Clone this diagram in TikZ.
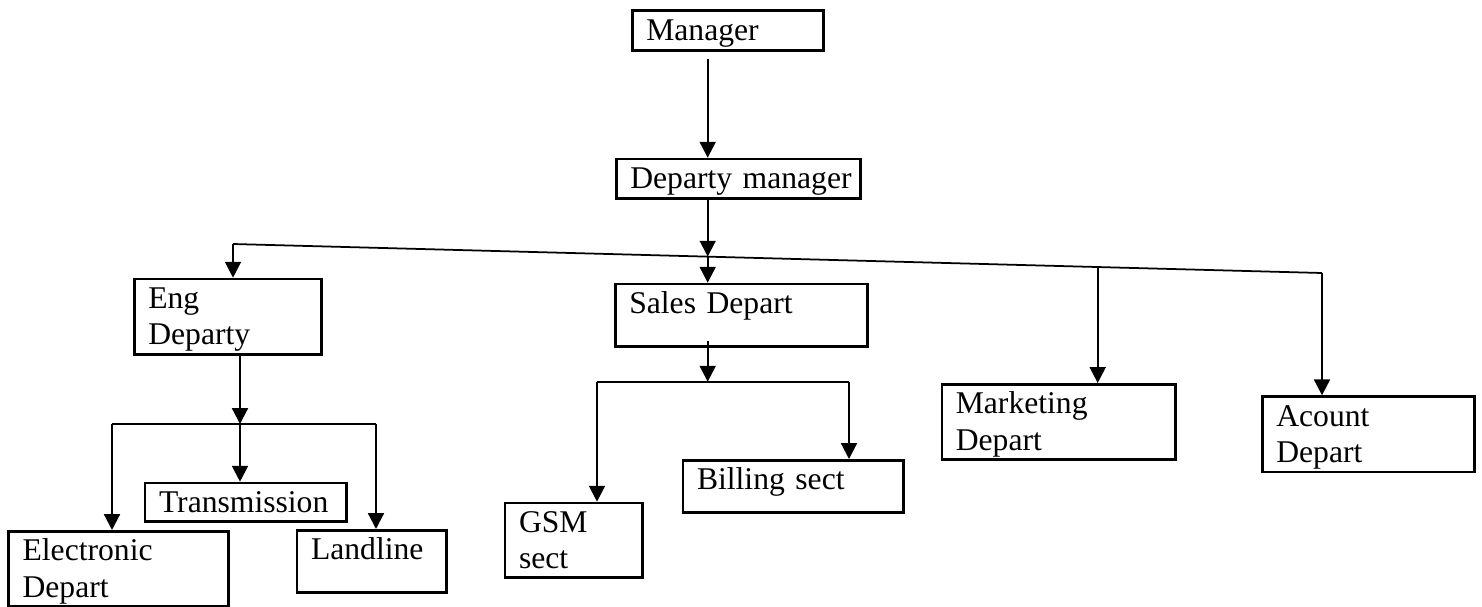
\documentclass[tikz,border=0pt]{standalone}
\usepackage{fontspec}
\setmainfont{Liberation Serif}
\usetikzlibrary{arrows.meta}
\tikzset{
  box/.style            = { rectangle, anchor=north west, inner xsep=0.28cm, inner ysep=0pt, text height=0.59cm, align=left },
  border/.style         = { line width=1.5pt, draw=black },
}
\tikzset{
  post/.style={
    box,
    border,
    font=\fontsize{18}{20.7}\selectfont
  },
  relation/.style       = { line width=1.25pt, draw=black },
  report/.style         = { relation, -{Triangle[length=9pt,width=9pt]} },
  bus/.style            = { relation, line width=1pt }
}

\begin{document}
\begin{tikzpicture}[x=0.02cm, y=-0.02cm]
  \useasboundingbox (0,0) rectangle (1482,606);

  \node (mgr)   [post,text width=3.26cm,text depth=0.21cm] at (631,9.3)     {Manager};
  \node (dmgr)  [post,text width=4.32cm,text depth=0.20cm] at (615,157.7)   {\mbox{Departy manager}};
  \node (eng)   [post,text width=3.18cm,text depth=0.92cm] at (133,277.7)   {Eng\\Departy};
  \node (sales) [post,text width=4.48cm,text depth=0.66cm] at (614,282.7)   {\mbox{Sales Depart}};
  \node (mkt)   [post,text width=4.12cm,text depth=0.91cm] at (940.5,383)   {Marketing\\Depart};
  \node (acct)  [post,text width=3.68cm,text depth=0.92cm] at (1261,395.3)  {Acount\\Depart};
  \node (trans) [post,text width=3.47cm,text depth=0.18cm] at (143.7,481.7) {Transmission};
  \node (elec)  [post,text width=3.84cm,text depth=0.91cm] at (7.3,530)     {Electronic\\Depart};
  \node (land)  [post,text width=2.43cm,text depth=0.66cm] at (295.7,529)   {Landline};
  \node (gsm)   [post,text width=2.19cm,text depth=0.90cm] at (503.7,501.7) {GSM\\sect};
  \node (bill)  [post,text width=3.85cm,text depth=0.45cm] at (681.7,459)   {\mbox{Billing sect}};

  % forks
  \coordinate (busL)  at (233,244);
  \coordinate (busR)  at (1322,273);
  \coordinate (hub)   at (707.7,256.6);
  \coordinate (mtap)  at (1097.7,267);
  \coordinate (sfork) at (707.7,381.7);
  \coordinate (sL)    at (597,381.7);
  \coordinate (sR)    at (849,381.7);
  \coordinate (efork) at (240,424);
  \coordinate (eL)    at (112,424);
  \coordinate (eR)    at (376,424);

  \draw [report] ([yshift=-4pt]hub |- mgr.south) -- (hub |- dmgr.north);
  \draw [report] (hub |- dmgr.south) -- (hub);

  \draw [bus]    (busL) -- (busR);
  \draw [report] (busL) -- (busL |- eng.north);
  \draw [report] (hub)  -- (hub |- sales.north);
  \draw [report] (mtap) -- (mtap |- mkt.north);
  \draw [report] (busR) -- (busR |- acct.north);

  \draw [report] ([yshift=4pt]sales.south -| sfork) -- (sfork);
  \draw [bus]    (sL) -- (sR);
  \draw [report] (sL) -- (sL |- gsm.north);
  \draw [report] (sR) -- (sR |- bill.north);

  \draw [report] (eng.south -| efork) -- (efork);
  \draw [bus]    (eL) -- (eR);
  \draw [report] (efork) -- (efork |- trans.north);
  \draw [report] (eL) -- (eL |- elec.north);
  \draw [report] (eR) -- (eR |- land.north);
\end{tikzpicture}
\end{document}
